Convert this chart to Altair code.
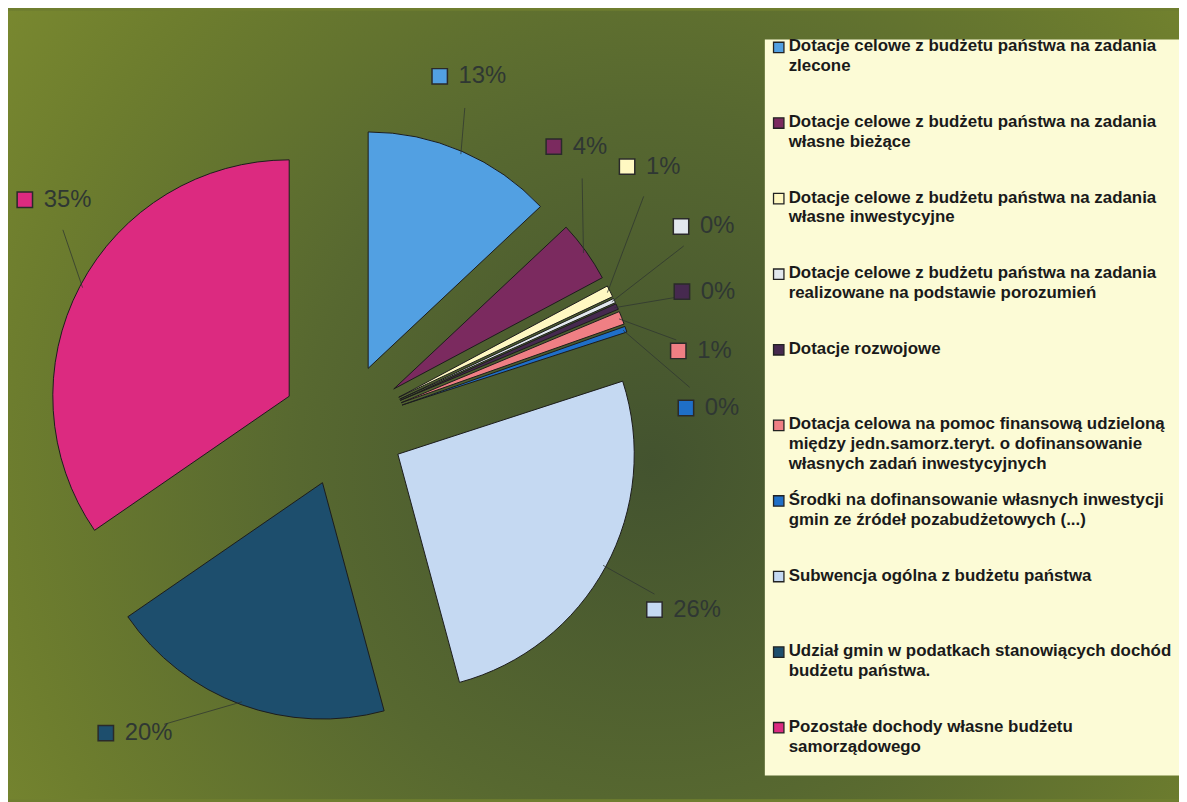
import altair as alt
import pandas as pd

# ---------------- data ----------------
categories = [
    "Dotacje celowe z budżetu państwa na zadania\nzlecone",
    "Dotacje celowe z budżetu państwa na zadania\nwłasne bieżące",
    "Dotacje celowe z budżetu państwa na zadania\nwłasne inwestycyjne",
    "Dotacje celowe z budżetu państwa na zadania\nrealizowane na podstawie porozumień",
    "Dotacje rozwojowe",
    "Dotacja celowa na pomoc finansową udzieloną\nmiędzy jedn.samorz.teryt.  o dofinansowanie\nwłasnych zadań inwestycyjnych",
    "Środki na dofinansowanie własnych inwestycji\ngmin ze źródeł pozabudżetowych (...)",
    "Subwencja ogólna z budżetu państwa",
    "Udział gmin w podatkach stanowiących dochód\nbudżetu państwa.",
    "Pozostałe dochody własne budżetu\nsamorządowego",
]
shares = [13.0, 4.2, 0.8, 0.3, 0.4, 0.9, 0.4, 25.8, 19.6, 34.6]

# ---------------- style ----------------
colors = ["#52a0e2", "#7b2a5f", "#fff8c2", "#e2e8ee", "#46294f",
          "#ef7f84", "#1f6fc8", "#c5d9f2", "#1d4e6d", "#dc2a80"]
# label placement (Excel-like spreading of the data labels): angle nudge from slice middle, distance from centre
label_nudge_deg = [-8.0, -17.3, -15.7, -5.8, 1.9, 8.6, 15.9, 2.3, 17.5, 7.5]
label_dist = [364, 351, 386, 394, 366, 345, 345, 364, 392, 393]

W, H = 1179, 794
CX, CY = 338, 417
R, EX = 238, 62
LEG_X0, LEG_Y0, LEG_Y1 = 762, 29, 770
LEG_STEP = 76.1

df = pd.DataFrame({
    "idx": list(range(len(categories))),
    "cat": categories,
    "value": shares,
    "nudge": label_nudge_deg,
    "dist": label_dist,
})

color = alt.Color("cat:N", scale=alt.Scale(domain=categories, range=colors), legend=None)

base = (
    alt.Chart(df)
    .transform_joinaggregate(total="sum(value)")
    .transform_window(cum="sum(value)", sort=[alt.SortField("idx")], frame=[None, 0])
    .transform_calculate(
        t1="datum.cum / datum.total * 2 * PI",
        t0="(datum.cum - datum.value) / datum.total * 2 * PI",
        mid="(datum.t0 + datum.t1) / 2",
        cx=f"{CX} + {EX} * sin(datum.mid)",
        cy=f"{CY} - {EX} * cos(datum.mid)",
        pct="datum.value / datum.total",
        lbl="format(datum.pct, '.0%')",
        la="datum.mid + datum.nudge * PI / 180",
        sx=f"{CX} + datum.dist * sin(datum.la)",
        sy=f"{CY} - datum.dist * cos(datum.la)",
        tx="datum.sx + 19",
        bx="datum.sx + 28",
        px=f"{CX} + {R + EX - 3} * sin(datum.mid)",
        py=f"{CY} - {R + EX - 3} * cos(datum.mid)",
        ll="sqrt(pow(datum.px - datum.bx, 2) + pow(datum.py - datum.sy, 2))",
        ax="datum.bx + 32 * (datum.px - datum.bx) / datum.ll",
        ay="datum.sy + 32 * (datum.py - datum.sy) / datum.ll",
        ly=f"{LEG_Y0 + 8} + {LEG_STEP} * datum.idx",
        lyt="datum.ly - 9",
    )
)

bg = alt.Chart(pd.DataFrame({"a": [0]})).mark_rect(
    fill=alt.Gradient(
        gradient="radial",
        x1=0.55, y1=0.55, r1=0.0,
        x2=0.55, y2=0.55, r2=0.72,
        stops=[
            alt.GradientStop(color="#43532f", offset=0),
            alt.GradientStop(color="#576830", offset=0.42),
            alt.GradientStop(color="#6e7e2e", offset=0.78),
            alt.GradientStop(color="#7d8c30", offset=1),
        ],
    )
).encode(x=alt.value(0), x2=alt.value(W), y=alt.value(0), y2=alt.value(H))

legend_box = alt.Chart(pd.DataFrame({"a": [0]})).mark_rect(
    fill="#fcfbd6"
).encode(x=alt.value(LEG_X0), x2=alt.value(W + 5), y=alt.value(LEG_Y0), y2=alt.value(LEG_Y1))

arcs = base.mark_arc(outerRadius=R, stroke="#1c1c1c", strokeWidth=1).encode(
    theta=alt.Theta("t0:Q", scale=None, stack=False),
    theta2=alt.Theta2("t1:Q"),
    x=alt.X("cx:Q", scale=None),
    y=alt.Y("cy:Q", scale=None),
    color=color,
    order=alt.Order("idx:Q"),
)

leaders = base.mark_rule(color="#2e3530", strokeWidth=1, opacity=0.75).encode(
    x=alt.X("ax:Q", scale=None), y=alt.Y("ay:Q", scale=None),
    x2="px:Q", y2="py:Q",
)

lab_sq = base.mark_square(size=240, stroke="#2a2a2a", strokeWidth=1.5, opacity=1).encode(
    x=alt.X("sx:Q", scale=None), y=alt.Y("sy:Q", scale=None), fill=color,
)

lab_txt = base.mark_text(
    align="left", baseline="middle", font="Liberation Sans", fontSize=24, color="#2f3733"
).encode(x=alt.X("tx:Q", scale=None), y=alt.Y("sy:Q", scale=None), text="lbl:N")

leg_sq = base.mark_square(size=110, stroke="#222222", strokeWidth=1.3, opacity=1).encode(
    x=alt.value(LEG_X0 + 14), y=alt.Y("ly:Q", scale=None), fill=color,
)

leg_txt = base.mark_text(
    align="left", baseline="top", font="Liberation Sans", fontSize=17, fontWeight="bold",
    lineBreak="\n", lineHeight=20, color="#1a1a1a",
).encode(x=alt.value(LEG_X0 + 24), y=alt.Y("lyt:Q", scale=None), text="cat:N")

chart = alt.layer(bg, legend_box, arcs, leaders, lab_sq, lab_txt, leg_sq, leg_txt).properties(
    width=W, height=H, padding=0, autosize=alt.AutoSizeParams(type="none")
).configure(background="#6f7e2f").configure_view(strokeWidth=0)

chart.save("out.html", embed_options={"renderer": "svg", "actions": False})
